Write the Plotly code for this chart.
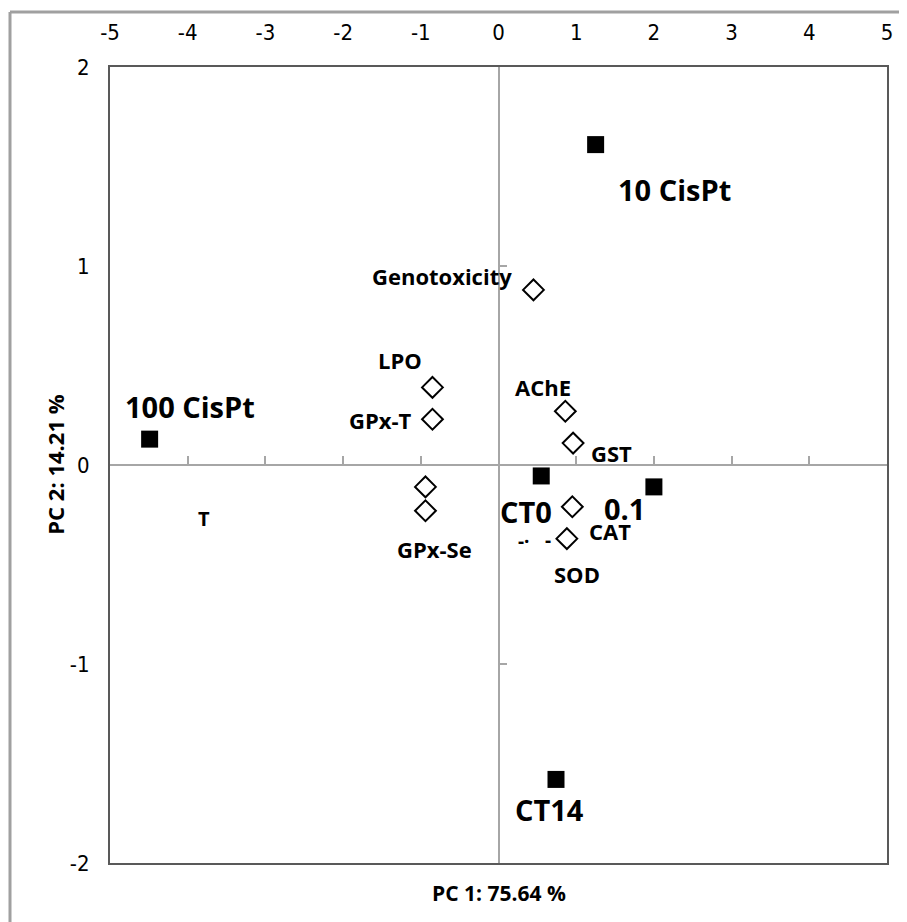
import plotly.graph_objects as go

# Sample scores (squares)
sample_names = ["10 CisPt", "100 CisPt", "CT0", "0.1", "CT14"]
sample_pc1 = [1.25, -4.49, 0.55, 2.00, 0.74]
sample_pc2 = [1.61, 0.13, -0.055, -0.11, -1.58]
sample_label_x = [2.27, -3.97, 0.35, 1.62, 0.65]
sample_label_y = [1.386, 0.293, -0.235, -0.22, -1.73]

# Variable loadings (diamonds)
var_names = ["Genotoxicity", "LPO", "GPx-T", "AChE", "GST", "", "GPx-Se", "CAT", "SOD"]
var_pc1 = [0.45, -0.85, -0.85, 0.86, 0.96, -0.94, -0.94, 0.95, 0.88]
var_pc2 = [0.88, 0.39, 0.23, 0.27, 0.11, -0.11, -0.23, -0.21, -0.37]
var_label_x = [-0.73, -1.27, -1.52, 0.57, 1.46, None, -0.82, 1.43, 1.01]
var_label_y = [0.95, 0.53, 0.225, 0.39, 0.058, None, -0.42, -0.33, -0.55]

x_ticks = [-5, -4, -3, -2, -1, 0, 1, 2, 3, 4, 5]
x_ticktext = ["-5", "-4", "-3", "-2", "-1", "0", "1", "2", "3", "4", "5"]
y_ticks = [-2, -1, 0, 1, 2]
y_ticktext = ["-2", "-1", "0", "1", "2"]

LABEL_FONT = "'Open Sans', 'Noto Sans', sans-serif"
TICK_FONT = "'Liberation Sans Narrow', 'DejaVu Sans Condensed', 'Liberation Sans', sans-serif"

fig = go.Figure()

# invisible trace so the center axes are drawn
fig.add_trace(go.Scatter(x=[0], y=[0], xaxis="x2", yaxis="y2", mode="markers",
                         marker=dict(opacity=0), hoverinfo="skip", showlegend=False))

fig.add_trace(go.Scatter(
    x=var_pc1, y=var_pc2, mode="markers",
    marker=dict(symbol="diamond-open", size=16, color="black", line=dict(width=2, color="black")),
    hoverinfo="skip", showlegend=False,
))
fig.add_trace(go.Scatter(
    x=sample_pc1, y=sample_pc2, mode="markers",
    marker=dict(symbol="square", size=17, color="black"),
    hoverinfo="skip", showlegend=False,
))

for n, x, y in zip(sample_names, sample_label_x, sample_label_y):
    fig.add_annotation(x=x, y=y, text=f"<b>{n}</b>", showarrow=False,
                       font=dict(family=LABEL_FONT, size=29, color="black"))
for n, x, y in zip(var_names, var_label_x, var_label_y):
    if n:
        fig.add_annotation(x=x, y=y, text=f"<b>{n}</b>", showarrow=False,
                           font=dict(family=LABEL_FONT, size=22, color="black"))

# partially hidden label fragments
fig.add_annotation(x=-3.79, y=-0.27, text="<b>T</b>", showarrow=False,
                   font=dict(family=LABEL_FONT, size=20, color="black"))
fig.add_annotation(x=0.33, y=-0.38, text="<b>-·</b>", showarrow=False,
                   font=dict(family=LABEL_FONT, size=19, color="black"))
fig.add_annotation(x=0.64, y=-0.375, text="<b>-</b>", showarrow=False,
                   font=dict(family=LABEL_FONT, size=19, color="black"))

fig.update_layout(
    width=899, height=914,
    margin=dict(l=102, r=20, t=59, b=59, autoexpand=False),
    paper_bgcolor="white", plot_bgcolor="white",
    xaxis=dict(range=[-5, 5], side="top", tickvals=x_ticks, ticktext=x_ticktext, ticks="",
               automargin=False,
               showgrid=False, zeroline=False, showline=True, mirror=True,
               linecolor="#595959", linewidth=2, ticklabelstandoff=16,
               tickfont=dict(family=TICK_FONT, size=22, color="black")),
    yaxis=dict(range=[-2, 2], tickvals=y_ticks, ticktext=y_ticktext, automargin=False,
               ticks="", showgrid=False, zeroline=False, showline=True, mirror=True,
               linecolor="#595959", linewidth=2, ticklabelstandoff=14,
               tickfont=dict(family=TICK_FONT, size=22, color="black")),
    xaxis2=dict(range=[-5, 5], overlaying="x", anchor="free", position=0.5, side="bottom",
                automargin=False,
                tickvals=x_ticks, ticks="inside", ticklen=8, tickcolor="#a6a6a6", tickwidth=1.5,
                showticklabels=False, showgrid=False, zeroline=False,
                showline=True, linecolor="#a6a6a6", linewidth=1.5),
    yaxis2=dict(range=[-2, 2], overlaying="y", anchor="free", position=0.5, side="left",
                automargin=False,
                tickvals=y_ticks, ticks="inside", ticklen=8, tickcolor="#a6a6a6", tickwidth=1.5,
                showticklabels=False, showgrid=False, zeroline=False,
                showline=True, linecolor="#a6a6a6", linewidth=1.5),
)

# axis titles
fig.add_annotation(xref="paper", yref="paper", x=0.5, y=-0.038, yanchor="middle",
                   text="<b>PC 1: 75.64 %</b>", showarrow=False,
                   font=dict(family=LABEL_FONT, size=21, color="black"))
fig.add_annotation(xref="paper", yref="paper", x=-0.093, y=0.5, textangle=-90,
                   text="<b>PC 2: 14.21 %</b>", showarrow=False,
                   font=dict(family=LABEL_FONT, size=22, color="black"))

# outer frame (top and left edges)
fig.add_shape(type="line", xref="paper", yref="paper", x0=-0.1287, x1=1.03, y0=1.069, y1=1.069,
              line=dict(color="#a0a0a0", width=3))
fig.add_shape(type="line", xref="paper", yref="paper", x0=-0.1287, x1=-0.1287, y0=-0.08, y1=1.069,
              line=dict(color="#a0a0a0", width=3))

fig.write_html("out.html")
